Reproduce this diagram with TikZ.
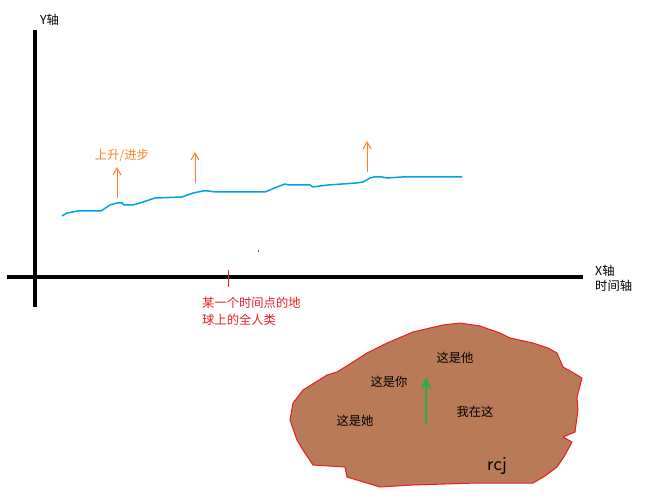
\documentclass[tikz,border=0pt]{standalone}
\usepackage{fontspec}
\newfontfamily\cjk{Noto Sans CJK SC}
\usetikzlibrary{arrows.meta}
\definecolor{axisblack}{RGB}{0,0,0}
\definecolor{curveblue}{RGB}{0,162,232}
\definecolor{uporange}{RGB}{255,127,39}
\definecolor{markred}{RGB}{237,28,36}
\definecolor{earth}{RGB}{185,122,87}
\definecolor{gogreen}{RGB}{34,177,76}
\tikzset{
  axisline/.style={line width=4.5pt, axisblack},
  lbl/.style={font=\cjk\fontsize{12.3}{14}\selectfont, inner sep=0pt},
  uparrow/.style={uporange, line width=1pt, -{Straight Barb[length=7pt,width=8pt]}},
  curve/.style={curveblue, line width=1.5pt, line join=round},
}
\begin{document}
\begin{tikzpicture}[x=1pt,y=-1pt]
\useasboundingbox (0,0) rectangle (647,502);
% axes
\coordinate (ytop) at (35,30);
\coordinate (ybot) at (35,307);
\coordinate (xl) at (7,277);
\coordinate (xr) at (583,277);
\draw[axisline] (ytop) -- (ybot);
\draw[axisline] (xl) -- (xr);
\node[lbl, anchor=west] (ylabel) at (40,20) {Y轴};
\node[lbl, anchor=north west, align=left] (xlabel) at (595,265) {X轴\\[1pt]时间轴};
% tick and mark
\coordinate (tickt) at (228,270);
\coordinate (tickb) at (228,287);
\draw[markred, line width=1pt] (tickt) -- (tickb);
\fill[markred] (257.5,250.5) rectangle (258.5,252.5);
\node[lbl, markred, anchor=north west, align=left] (humans) at (202,297) {某一个时间点的地\\[3pt]球上的全人类};
% curve
\draw[curve] (62,216) -- (67,213) -- (78,211) -- (101,211) -- (110,205) -- (117,203) -- (122,203) -- (124,205) -- (133,205) -- (143,202) -- (155,198) -- (182,197) -- (193,193) -- (203,191) -- (208,191) -- (216,192) -- (265,192) -- (277,187) -- (285,184) -- (289,185) -- (310,185) -- (313,187) -- (320,186) -- (328,185) -- (342,184) -- (356,183) -- (363,182) -- (370,178) -- (374,177) -- (382,177) -- (387,178) -- (402,177) -- (420,177) -- (462,177);
% orange arrows
\node[lbl, uporange] (uplabel) at (122,155) {上升/进步};
\coordinate (a1s) at (117,198); \coordinate (a1e) at (117,167);
\coordinate (a2s) at (195,183); \coordinate (a2e) at (195,152);
\coordinate (a3s) at (367,172); \coordinate (a3e) at (367,141);
\draw[uparrow] (a1s) -- (a1e);
\draw[uparrow] (a2s) -- (a2e);
\draw[uparrow] (a3s) -- (a3e);
% earth blob
\draw[markred, fill=earth, line width=1pt, line join=round]
 (413,332) -- (430,328) -- (443,325) -- (460,323) -- (480,326) -- (500,333) -- (510,338) -- (533,343) -- (548,348) -- (557,353) -- (563,367) -- (572,372) -- (582,378) -- (577,397) -- (578,410) -- (575,432) -- (563,437) -- (572,442) -- (565,455) -- (557,467) -- (545,476) -- (533,483) -- (477,483) -- (413,485) -- (380,487) -- (347,477) -- (345,467) -- (313,465) -- (303,450) -- (297,440) -- (290,420) -- (293,403) -- (303,390) -- (327,375) -- (337,372) -- (353,362) -- (367,353) -- (387,343) -- cycle;
\node[lbl] (he) at (455,358) {这是他};
\node[lbl] (you) at (389,382) {这是你};
\node[lbl] (she) at (355,421) {这是她};
\node[lbl] (me) at (475,412) {我在这};
\coordinate (gs) at (426,425);
\coordinate (ge) at (426,377);
\draw[gogreen, line width=2.6pt, -{Stealth[length=12pt,width=11pt,inset=4pt]}] (gs) -- (ge);
\node[font=\sffamily\fontsize{20}{20}\selectfont, inner sep=0pt] (sig) at (497,466) {rcj};
\end{tikzpicture}
\end{document}
